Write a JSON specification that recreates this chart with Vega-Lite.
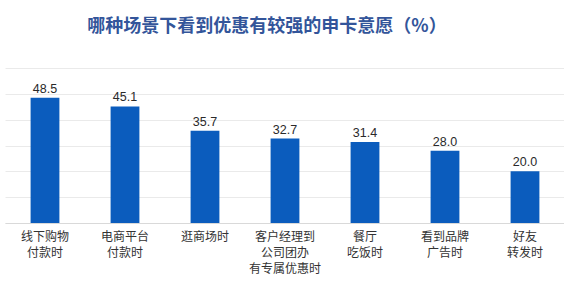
{
  "$schema": "https://vega.github.io/schema/vega-lite/v6.json",
  "autosize": {"type": "none"},
  "width": 560,
  "height": 155,
  "padding": {"left": 5, "top": 68, "right": 0, "bottom": 64},
  "background": "white",
  "title": {
    "text": "哪种场景下看到优惠有较强的申卡意愿（%）",
    "font": "Noto Sans CJK SC",
    "fontSize": 18,
    "fontWeight": "bold",
    "color": "#33559a",
    "anchor": "middle",
    "frame": "group",
    "dx": -18,
    "offset": 23,
    "baseline": "middle"
  },
  "data": {
    "values": [
      {"scene": "线下购物\n付款时", "value": 48.5},
      {"scene": "电商平台\n付款时", "value": 45.1},
      {"scene": "逛商场时", "value": 35.7},
      {"scene": "客户经理到\n公司团办\n有专属优惠时", "value": 32.7},
      {"scene": "餐厅\n吃饭时", "value": 31.4},
      {"scene": "看到品牌\n广告时", "value": 28.0},
      {"scene": "好友\n转发时", "value": 20.0}
    ]
  },
  "encoding": {
    "x": {
      "field": "scene",
      "type": "nominal",
      "sort": null,
      "scale": {"paddingInner": 0.64, "paddingOuter": 0.32},
      "axis": {
        "title": null,
        "labelAngle": 0,
        "labelExpr": "split(datum.label, '\\n')",
        "labelFont": "Noto Sans CJK SC",
        "labelFontSize": 12,
        "labelColor": "#333333",
        "labelLineHeight": 16,
        "labelPadding": 8,
        "ticks": false,
        "domainColor": "#d9d9d9",
        "labelBaseline": "top"
      }
    },
    "y": {
      "field": "value",
      "type": "quantitative",
      "scale": {"domain": [0, 60]},
      "axis": {
        "title": null,
        "labels": false,
        "ticks": false,
        "domain": false,
        "values": [0, 10, 20, 30, 40, 50, 60],
        "gridColor": "#eaeaea"
      }
    }
  },
  "layer": [
    {"mark": {"type": "bar", "color": "#0b5cbd"}},
    {
      "mark": {"type": "text", "dy": -9, "font": "Liberation Sans", "fontSize": 12.5, "color": "#2a2a2a"},
      "encoding": {"text": {"field": "value", "type": "quantitative", "format": ".1f"}}
    }
  ],
  "config": {"view": {"stroke": null}}
}
